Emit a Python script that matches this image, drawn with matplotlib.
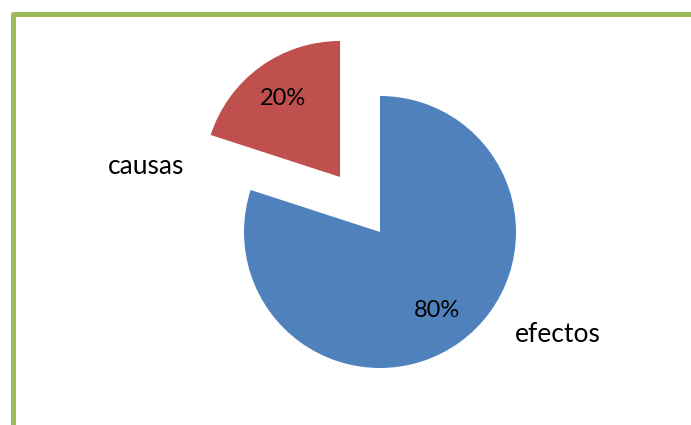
import matplotlib
matplotlib.use("Agg")
import matplotlib.pyplot as plt
from matplotlib.lines import Line2D

# Share of the problem explained by each group
categories = ["efectos", "causas"]
shares = [80, 20]
colors = ["#4F81BD", "#C0504D"]

plt.rcParams['font.family'] = ['Lato', 'DejaVu Sans']

W, H = 691, 425
fig = plt.figure(figsize=(W / 100, H / 100), dpi=100)
ax = fig.add_axes([0, 0, 1, 1])

# pie radius = 136 px, centre at (380, 232) px from top-left
r_px = 136.0
cx, cy = 380.0, 232.0

wedges, texts, autotexts = ax.pie(
    shares, labels=categories, colors=colors, startangle=90,
    counterclock=False, explode=[0, 0.5], autopct='%1.0f%%',
    pctdistance=0.71, labeldistance=1.4,
    textprops=dict(fontsize=19, color='black'),
    wedgeprops=dict(linewidth=0),
)
ax.set_aspect('auto')
ax.set_xlim(-cx / r_px, (W - cx) / r_px)
ax.set_ylim(-(H - cy) / r_px, cy / r_px)
ax.set_axis_off()

# category label placement
label_pos = {"efectos": (1.309, -0.757), "causas": (-1.721, 0.478)}
for t in texts:
    t.set_position(label_pos[t.get_text()])
    t.set_ha('center')
    t.set_va('center')
for t in autotexts:
    t.set_va('center')
    t.set_fontsize(17)

# green frame along the top and left
frame = "#9BBB59"
x0, y0 = 12.5 / W, 1 - 13.5 / H
fig.add_artist(Line2D([1.02, x0, x0], [y0, y0, -0.02], transform=fig.transFigure,
                      color=frame, lw=3.6, solid_joinstyle='round'))

fig.savefig("out.png", dpi=100)
